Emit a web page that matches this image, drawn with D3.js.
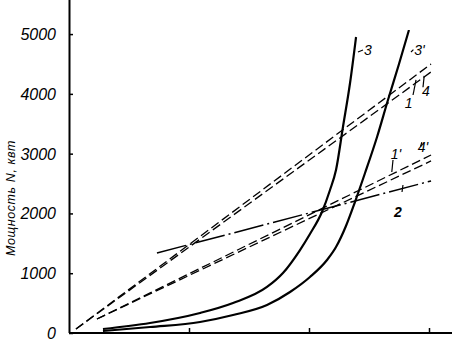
<!DOCTYPE html>
<html><head><meta charset="utf-8">
<script src="https://cdn.jsdelivr.net/npm/d3@7"></script>
<style>
html,body{margin:0;padding:0;background:#fff;}
text{font-family:"Liberation Sans",Arial,sans-serif;font-style:italic;fill:#000;}
</style></head>
<body><svg id="c" width="452" height="345"></svg>
<script>
// ---- data ----
const yTicks = [0, 1000, 2000, 3000, 4000, 5000];
const xTicks = [1, 2, 3];

// curve 3 (solid)
const c3U = [0.283, 0.675, 1.092, 1.367, 1.65, 1.783, 1.925, 2.008, 2.108, 2.175, 2.225, 2.283, 2.342, 2.392];
const c3N = [67, 167, 335, 502, 770, 1004, 1388, 1656, 2024, 2392, 2726, 3446, 4182, 4951];
// curve 3' (solid)
const c3pU = [0.283, 0.675, 1.092, 1.367, 1.65, 1.842, 2.008, 2.15, 2.225, 2.308, 2.383, 2.467, 2.567, 2.658, 2.75, 2.833];
const c3pN = [33, 100, 184, 301, 468, 686, 937, 1221, 1438, 1790, 2191, 2676, 3279, 3898, 4500, 5068];
// straight dashed lines 1, 4 (upper pair), 1', 4' (lower pair), dash-dot 2
const l4U = [0.058, 3.017], l4N = [67, 4500];
const l1U = [0.058, 3.017], l1N = [67, 4367];
const l4pU = [0.233, 3.017], l4pN = [234, 2978];
const l1pU = [0.233, 3.017], l1pN = [234, 2878];
const l2U = [0.733, 3.017], l2N = [1338, 2543];

// curve labels and leader lines, in data units
const labelText = ["3", "3'", "1", "4", "1'", "4'", "2"];
const labelU = [2.49, 2.92, 2.83, 2.975, 2.725, 2.95, 2.74];
const labelN = [4650, 4650, 3764, 3965, 2911, 3028, 1940];
const leaderU = [[2.408, 2.45], [2.85, 2.87], [2.867, 2.892], [2.95, 2.96], [2.70, 2.69], [2.93, 2.94], [2.775, 2.783]];
const leaderN = [[4701, 4734], [4700, 4740], [3981, 4232], [4110, 4300], [2894, 2693], [3120, 3190], [2359, 2476]];

// ---- drawing ----
const svg = d3.select("#c");
const x = d3.scaleLinear().domain([0, 3.2]).range([69, 453]);
const y = d3.scaleLinear().domain([0, 5570]).range([333, 0]);

const zip = (u, n) => u.map((d, i) => [d, n[i]]);
const line = d3.line().x(d => x(d[0])).y(d => y(d[1]));
const smooth = d3.line().x(d => x(d[0])).y(d => y(d[1])).curve(d3.curveMonotoneX);

// axes
const yAxis = d3.axisRight(y).tickValues(yTicks).tickSize(4).tickFormat("");
const gy = svg.append("g").attr("transform", `translate(${x(0)},0)`).call(yAxis);
gy.select(".domain").attr("stroke-width", 2).attr("d", `M0.5,${y(0)}V0`);
gy.selectAll(".tick line").attr("stroke-width", 1.5);

const xAxis = d3.axisTop(x).tickValues(xTicks).tickSize(5).tickFormat("");
const gx = svg.append("g").attr("transform", `translate(0,${y(0)})`).call(xAxis);
gx.select(".domain").attr("stroke-width", 2).attr("d", `M${x(0)},0H452`);
gx.selectAll(".tick line").attr("stroke-width", 1.5);

// y tick labels
svg.selectAll(".ylab").data(yTicks).enter().append("text")
  .attr("x", 56).attr("y", d => y(d) + 6)
  .attr("text-anchor", "end").attr("font-size", 16)
  .text(d => d === 0 ? "0" : d);

// y axis title
svg.append("text")
  .attr("transform", "translate(15,198) rotate(-90)")
  .attr("text-anchor", "middle").attr("font-size", 12.5).attr("letter-spacing", 0.6)
  .text("Мощность N, квт");

// dashed pairs
const dashed = [[l4U, l4N], [l1U, l1N], [l4pU, l4pN], [l1pU, l1pN]];
svg.selectAll(".dl").data(dashed).enter().append("path")
  .attr("d", d => line(zip(d[0], d[1])))
  .attr("fill", "none").attr("stroke", "#000").attr("stroke-width", 1.3)
  .attr("stroke-dasharray", "9,4");

// dash-dot line 2
svg.append("path").attr("d", line(zip(l2U, l2N)))
  .attr("fill", "none").attr("stroke", "#000").attr("stroke-width", 1.5)
  .attr("stroke-dasharray", "30,4,2,4");

// solid curves
[[c3U, c3N], [c3pU, c3pN]].forEach(d => {
  svg.append("path").attr("d", smooth(zip(d[0], d[1])))
    .attr("fill", "none").attr("stroke", "#000").attr("stroke-width", 2.2);
});

// leaders
leaderU.forEach((u, i) => {
  svg.append("path").attr("d", line(zip(u, leaderN[i])))
    .attr("stroke", "#000").attr("stroke-width", 1.2).attr("fill", "none");
});
// labels
labelText.forEach((t, i) => {
  svg.append("text").attr("x", x(labelU[i])).attr("y", y(labelN[i]))
    .attr("text-anchor", "middle").attr("font-size", 14)
    .attr("font-weight", t === "2" ? "bold" : "normal")
    .text(t);
});
</script></body></html>
